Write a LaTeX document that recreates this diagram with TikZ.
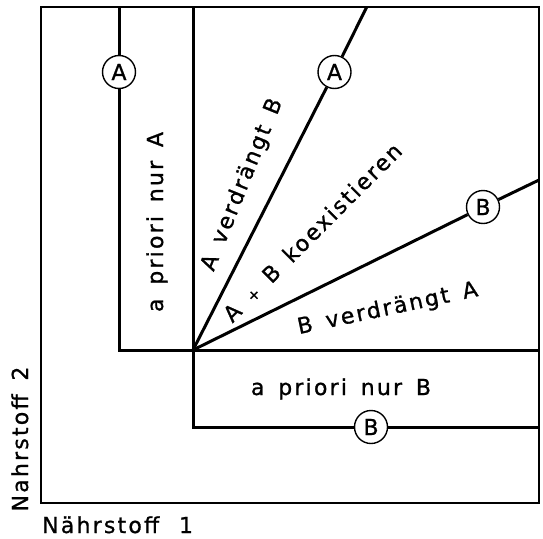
\documentclass[tikz,border=0pt]{standalone}
\usepackage{fontspec}
\setmainfont{DejaVu Sans}[LetterSpace=10, WordSpace=1.5, FakeBold=1]
\begin{document}
\begin{tikzpicture}[x=1pt,y=-1pt,
  lbl/.style={font=\fontsize{22}{26}\selectfont, inner sep=0pt, anchor=base},
  ring/.style={circle, draw, fill=white, line width=1.4pt, minimum size=33pt, inner sep=0pt, font=\fontsize{22}{26}\selectfont},
  frame/.style={line width=1.6pt},
  bound/.style={line width=3pt, line join=miter}]
\useasboundingbox (0,0) rectangle (543,538);
% frame
\coordinate (TL) at (41,7);
\coordinate (BR) at (539,503);
\draw[frame] (TL) rectangle (BR);
% key points
\coordinate (O) at (193,350);
\coordinate (Atop) at (119,7);
\coordinate (Acorner) at (119,350);
\coordinate (Rmid) at (539,350);
\coordinate (Mtop) at (193,7);
\coordinate (Bcorner) at (193,427);
\coordinate (Rbot) at (539,427);
\coordinate (Ltop) at (366.7,7);
\coordinate (Rline) at (539,180);
% circles
\node[ring] (cA1) at (119,72) {A};
\node[ring] (cA2) at (334.5,72) {A};
\node[ring] (cB2) at (483,207) {B};
\node[ring] (cB1) at (371,427) {B};
% boundary lines
\draw[bound] (Atop) -- (cA1);
\draw[bound] (cA1) -- (Acorner) -- (Rmid);
\draw[bound] (Mtop) -- (Bcorner) -- (cB1);
\draw[bound] (cB1) -- (Rbot);
\draw[bound] (O) -- (cA2);
\draw[bound] (cA2) -- (Ltop);
\draw[bound] (O) -- (cB2);
\draw[bound] (cB2) -- (Rline);
% labels
\node[lbl, rotate=90] (tA) at (163,222) {a priori nur A};
\node[lbl] (tB) at (341,395) {a priori nur B};
\node[lbl, rotate=68] (tAvB) at (248,187) {A verdrängt B};
\node[lbl, rotate=45] (tAB) at (318,238) {A {\fontsize{15}{15}\selectfont +} B koexistieren};
\node[lbl, rotate=12] (tBvA) at (389,315) {B verdrängt A};
\node[lbl, rotate=90] (ty) at (28,439) {Nahrstoff 2};
\node[lbl, anchor=base west] (tx) at (42,533) {Nährstoff\hspace{0.9em}1};
\end{tikzpicture}
\end{document}
